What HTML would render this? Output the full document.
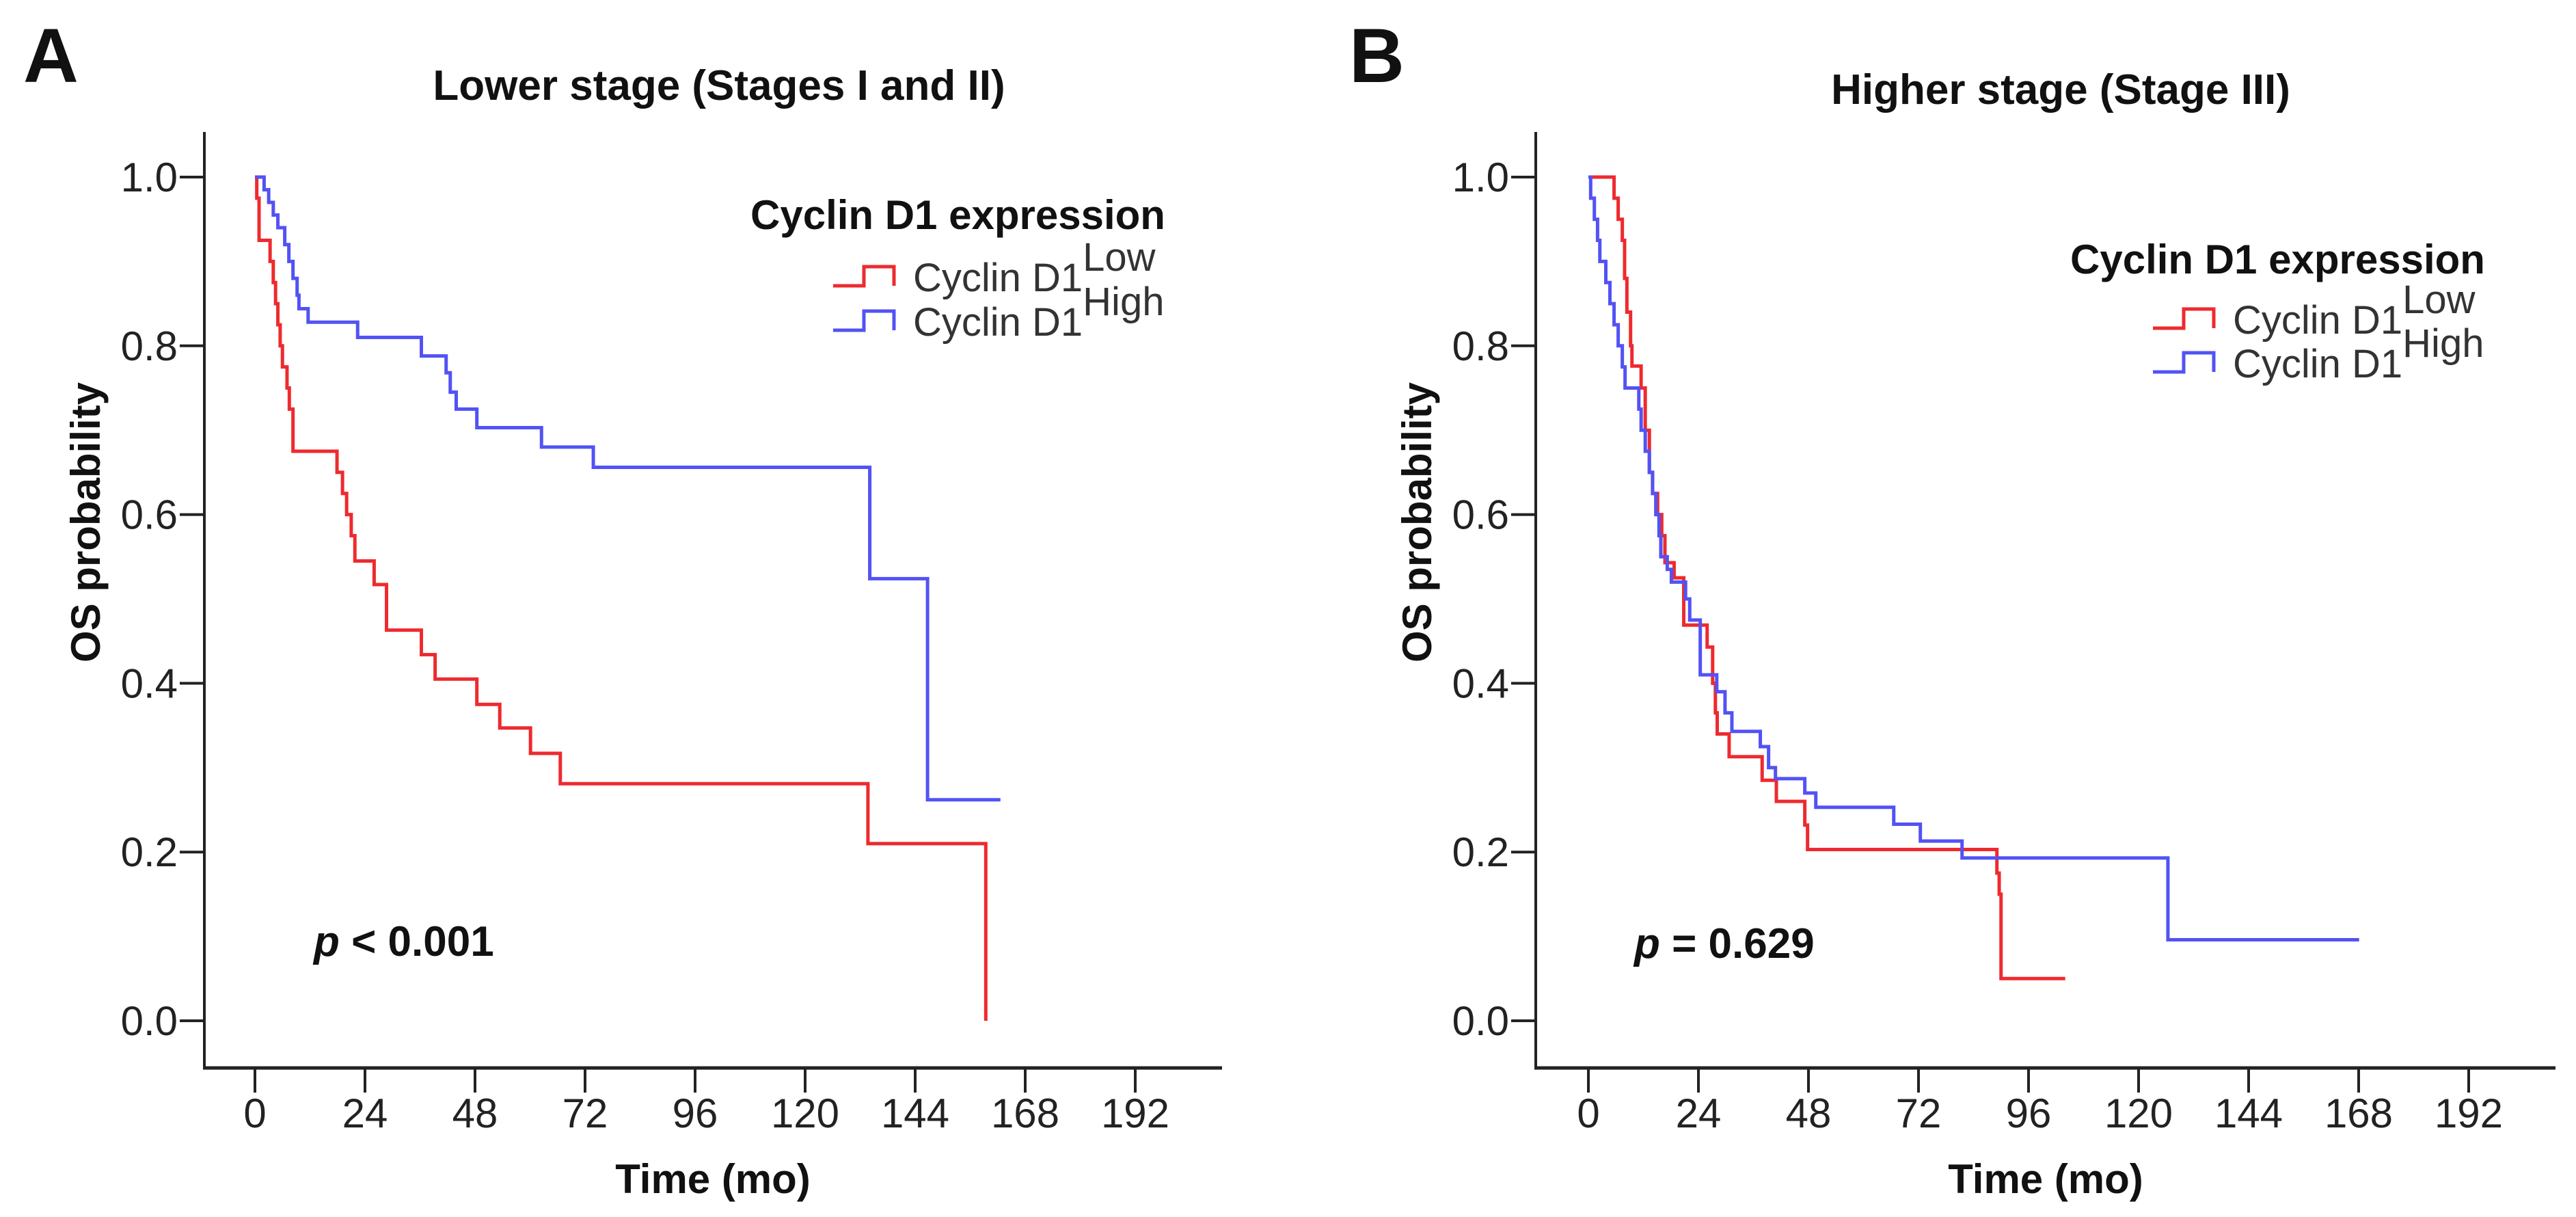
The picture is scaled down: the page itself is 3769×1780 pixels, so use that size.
<!DOCTYPE html>
<html><head><meta charset="utf-8"><style>
html,body{margin:0;padding:0;background:#fff;}
svg{display:block;}
.tick{font-family:"Liberation Sans Narrow","Liberation Sans",sans-serif;font-size:60px;fill:#222;}
.bold{font-family:"Liberation Sans",sans-serif;font-weight:bold;fill:#111;}
.leg{font-family:"Liberation Sans",sans-serif;font-size:58px;fill:#333;}
</style></head><body>
<svg id="chart" width="3769" height="1780" viewBox="0 0 3769 1780" xmlns="http://www.w3.org/2000/svg"></svg>
<script>
const xTicks = [0,24,48,72,96,120,144,168,192];
const yTicks = [0.0,0.2,0.4,0.6,0.8,1.0];
const yTickLabels = ["0.0","0.2","0.4","0.6","0.8","1.0"];
// Panel A (t months, survival prob after step)
const aLowTime = [0,0.4,0.9,3.3,4,4.5,5,5.5,6,7,7.5,8.3,17.9,19.1,20,21,21.8,26,28.7,36.3,39.3,48.4,53.4,60.1,66.6,133.7,159.4];
const aLowSurv = [1,0.975,0.925,0.9,0.875,0.85,0.825,0.8,0.775,0.75,0.725,0.675,0.65,0.625,0.6,0.575,0.545,0.517,0.463,0.434,0.405,0.375,0.347,0.317,0.281,0.21,0];
const aLowEnd = 159.4;
const aHighTime = [0,2,3,4,5,6.5,7.4,8.3,9.2,9.6,11.6,22.4,36.3,41.7,42.6,43.9,48.4,62.5,73.8,134.1,146.7];
const aHighSurv = [1,0.985,0.97,0.955,0.94,0.92,0.9,0.88,0.86,0.844,0.828,0.81,0.788,0.768,0.745,0.725,0.703,0.68,0.656,0.524,0.262];
const aHighEnd = 162.6;
// Panel B
const bLowTime = [0,4.7,5.6,6.5,7.4,7.9,8.4,9.2,9.5,11.5,12.4,13.3,14,15.1,16,16.7,18.7,20.8,25.9,27.1,27.7,28.1,30.7,37.9,41,47.2,47.8,89.1,89.6,90];
const bLowSurv = [1,1,0.975,0.95,0.925,0.88,0.84,0.8,0.776,0.75,0.7,0.65,0.625,0.6,0.575,0.543,0.525,0.469,0.443,0.4,0.365,0.34,0.313,0.285,0.26,0.232,0.203,0.175,0.15,0.05];
const bLowEnd = 104;
const bHighTime = [0,0.5,1.3,2,2.5,3.8,4.7,5.6,6.5,7.4,8,11,11.5,12.4,13.3,14,14.7,15.4,15.8,17.2,18.1,21.2,22.1,24.4,28,29.8,31.3,37.5,39.3,40.8,47.2,49.6,66.6,72.4,81.5,126.4];
const bHighSurv = [1,0.975,0.95,0.925,0.9,0.875,0.85,0.825,0.8,0.775,0.75,0.725,0.7,0.675,0.65,0.625,0.6,0.575,0.55,0.535,0.52,0.5,0.475,0.41,0.39,0.365,0.343,0.325,0.3,0.287,0.27,0.253,0.233,0.213,0.193,0.096];
const bHighEnd = 168.1;

const NS="http://www.w3.org/2000/svg";
const svg=document.getElementById('chart');
function mk(tag,attrs,parent){const e=document.createElementNS(NS,tag);for(const k in attrs)e.setAttribute(k,attrs[k]);(parent||svg).appendChild(e);return e;}

function panel(cfg){
  const g=mk('g',{});
  
  
  const axX=cfg.axisX, x0=cfg.x0, x192=cfg.x0+1288, y1=259, y0=1493, baseY=1562;
  const sx=t=>x0+(t/192)*(x192-x0);
  const sy=p=>y0-p*(y0-y1);
  const ya=mk('line',{x1:axX,y1:193,x2:axX,y2:baseY+2,stroke:'#222','stroke-width':4},g);
  
  
  const xa=mk('line',{x1:axX-2,y1:baseY,x2:cfg.axisEnd,y2:baseY,stroke:'#222','stroke-width':5},g);
  
  
  xTicks.forEach(t=>{
    const l=mk('line',{x1:sx(t),y1:baseY,x2:sx(t),y2:baseY+36,stroke:'#222','stroke-width':4},g);
    
    
    const tx=mk('text',{x:sx(t),y:1649,'text-anchor':'middle',class:'tick'},g);
    tx.textContent=String(t);
    
    
  });
  yTicks.forEach((v,i)=>{
    const l=mk('line',{x1:axX-36,y1:sy(v),x2:axX,y2:sy(v),stroke:'#222','stroke-width':4},g);
    
    
    const tx=mk('text',{x:axX-39,y:sy(v)+21,'text-anchor':'end',class:'tick'},g);
    tx.textContent=yTickLabels[i];
    
    
  });
  function curve(times,surv,end,color,name){
    let d='M'+sx(times[0])+','+sy(surv[0]);
    for(let i=1;i<times.length;i++){d+=' H'+sx(times[i])+' V'+sy(surv[i]);}
    if(end>times[times.length-1]) d+=' H'+sx(end);
    const p=mk('path',{d:d,fill:'none',stroke:color,'stroke-width':5},g);
    
    
  }
  curve(cfg.lowT,cfg.lowS,cfg.lowEnd,'#ee2a2e','km-curve-low');
  curve(cfg.highT,cfg.highS,cfg.highEnd,'#5252f5','km-curve-high');
}

panel({id:'a',axisX:299,x0:373,axisEnd:1788,lowT:aLowTime,lowS:aLowSurv,lowEnd:aLowEnd,highT:aHighTime,highS:aHighSurv,highEnd:aHighEnd});
panel({id:'b',axisX:2247,x0:2324,axisEnd:3739,lowT:bLowTime,lowS:bLowSurv,lowEnd:bLowEnd,highT:bHighTime,highS:bHighSurv,highEnd:bHighEnd});
</script>
<script>
(function(){
const NS="http://www.w3.org/2000/svg";const svg=document.getElementById('chart');
function t(x,y,txt,cls,size,anchor,name,extra){const e=document.createElementNS(NS,'text');e.setAttribute('x',x);e.setAttribute('y',y);e.setAttribute('class',cls);e.setAttribute('font-size',size);e.setAttribute('text-anchor',anchor||'start');if(extra)e.setAttribute('transform',extra);e.innerHTML=txt;svg.appendChild(e);


return e;}
t(34,120,'A','bold',112,'start','panel-label-a');
t(1974,120,'B','bold',112,'start','panel-label-b');
t(1052,146,'Lower stage (Stages I and II)','bold',62,'middle','title-a');
t(3015,152,'Higher stage (Stage III)','bold',62,'middle','title-b');
t(146,764,'OS probability','bold',60,'middle','y-axis-title-a','rotate(-90 146 764)');
t(2094,764,'OS probability','bold',60,'middle','y-axis-title-b','rotate(-90 2094 764)');
t(1043,1745,'Time (mo)','bold',60,'middle','x-axis-title-a');
t(2993,1745,'Time (mo)','bold',60,'middle','x-axis-title-b');
t(459,1398,'<tspan font-style="italic">p</tspan> &lt; 0.001','bold',62,'start','p-value-a');
t(2391,1401,'<tspan font-style="italic">p</tspan> = 0.629','bold',62,'start','p-value-b');
function legend(x,titleY,lowY,highY,id){
  t(x,titleY,'Cyclin D1 expression','bold',60,'start','legend-title-'+id);
  const lx=x+121, tx=x+238;
  function sym(y,color,name){const p=document.createElementNS(NS,'path');
    p.setAttribute('d','M'+lx+','+(y-8)+' H'+(lx+45)+' V'+(y-36)+' H'+(lx+89)+' V'+(y-8));
    p.setAttribute('fill','none');p.setAttribute('stroke',color);p.setAttribute('stroke-width',5);svg.appendChild(p);
    
    }
  sym(lowY,'#ee2a2e','legend-symbol-low');
  sym(highY,'#5252f5','legend-symbol-high');
  t(tx,lowY,'Cyclin D1<tspan dy="-30">Low</tspan>','leg',58,'start','legend-entry-low');
  t(tx,highY,'Cyclin D1<tspan dy="-30">High</tspan>','leg',58,'start','legend-entry-high');
}
legend(1098,335,426,491,'a');
legend(3029,400,488,552,'b');
})();
</script>
</body></html>
